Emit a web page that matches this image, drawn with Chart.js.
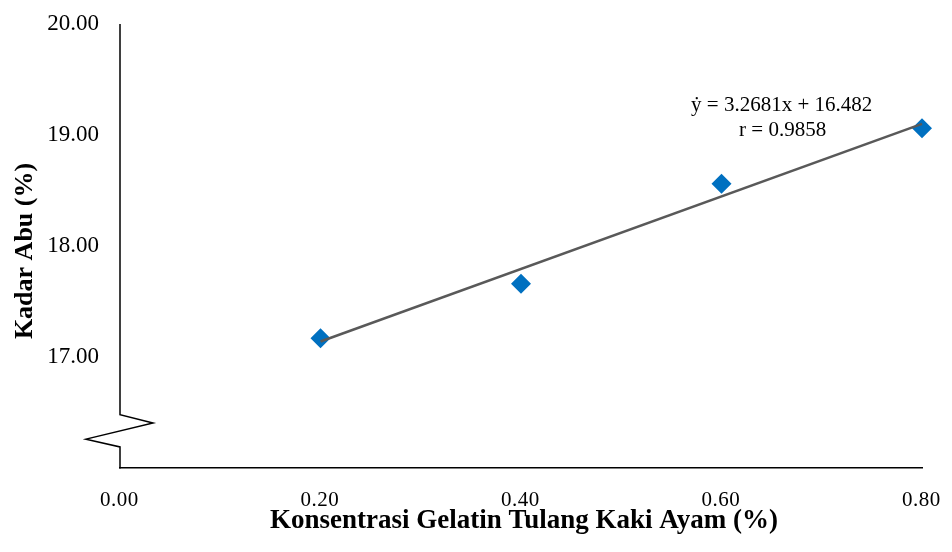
<!DOCTYPE html>
<html><head><meta charset="utf-8">
<script src="https://cdn.jsdelivr.net/npm/chart.js@4"></script>
<style>html,body{margin:0;padding:0;background:#fff}#wrap{width:952px;height:552px}</style>
</head><body><div id="wrap"><canvas id="c" width="952" height="552"></canvas></div>
<script>
const concentrations = [0.2, 0.4, 0.6, 0.8];
const ashContent = [17.17, 17.66, 18.56, 19.06];
const trendX = [0.2, 0.8];
const trendY = [17.14, 19.10];
const xTickValues = [0, 0.2, 0.4, 0.6, 0.8];
const xTickLabels = ['0.00', '0.20', '0.40', '0.60', '0.80'];
const yTickValues = [17, 18, 19, 20];
const xTitle = 'Konsentrasi Gelatin Tulang Kaki Ayam (%)';
const yTitle = 'Kadar Abu (%)';
const eqLines = ['ẏ = 3.2681x + 16.482', 'r = 0.9858'];
const eqAnchor = [0.66, 19.27];

const SERIF = '"Liberation Serif", "Times New Roman", serif';

const decor = {
  id: 'decor',
  afterDraw(chart) {
    const ctx = chart.ctx;
    const xs = chart.scales.x, ys = chart.scales.y;
    const ca = chart.chartArea;
    const left = ca.left;
    ctx.save();
    // y axis with break
    ctx.strokeStyle = '#000';
    ctx.lineWidth = 1.5;
    ctx.beginPath();
    ctx.moveTo(left, ys.getPixelForValue(20));
    ctx.lineTo(left, ys.getPixelForValue(16.48));
    ctx.lineTo(left + 33, ys.getPixelForValue(16.405));
    ctx.lineTo(left - 34, ys.getPixelForValue(16.26));
    ctx.lineTo(left, ys.getPixelForValue(16.19));
    ctx.lineTo(left, ys.getPixelForValue(16) + 0.5);
    ctx.stroke();

    // x tick labels with slight letter spacing
    ctx.fillStyle = '#000';
    ctx.font = '21px ' + SERIF;
    ctx.textBaseline = 'middle';
    ctx.textAlign = 'left';
    const ls = 0.5;
    try { ctx.letterSpacing = ls + 'px'; } catch (e) {}
    xTickValues.forEach((v, i) => {
      const txt = xTickLabels[i];
      const w = ctx.measureText(txt).width - ls;
      ctx.fillText(txt, xs.getPixelForValue(v) - w / 2 - 1, ca.bottom + 32);
    });
    try { ctx.letterSpacing = '0px'; } catch (e) {}

    // axis titles
    ctx.textAlign = 'center';
    ctx.font = 'bold 27px ' + SERIF;
    ctx.fillText(xTitle, (ca.left + ca.right) / 2 + 3, ca.bottom + 53);
    ctx.save();
    ctx.font = 'bold 26px ' + SERIF;
    ctx.translate(25, (ca.top + ca.bottom) / 2 + 5);
    ctx.rotate(-Math.PI / 2);
    ctx.fillText(yTitle, 0, 0);
    ctx.restore();

    // equation
    ctx.font = '21px ' + SERIF;
    const ex = xs.getPixelForValue(eqAnchor[0]);
    const ey = ys.getPixelForValue(eqAnchor[1]);
    ctx.fillText(eqLines[0], ex, ey);
    ctx.fillText(eqLines[1], ex + 1, ey + 25);
    ctx.restore();
  }
};

new Chart(document.getElementById('c'), {
  type: 'scatter',
  data: {
    datasets: [
      {
        type: 'line',
        label: 'Trend',
        data: trendX.map((x, i) => ({ x, y: trendY[i] })),
        borderColor: '#595959',
        borderWidth: 2.5,
        pointRadius: 0,
        fill: false,
        order: 1,
        clip: false
      },
      {
        label: 'Kadar Abu',
        data: concentrations.map((x, i) => ({ x, y: ashContent[i] })),
        backgroundColor: '#0070C0',
        borderColor: '#0070C0',
        borderWidth: 0,
        pointStyle: 'rectRot',
        pointRadius: 10,
        pointHoverRadius: 10,
        order: 2,
        clip: false
      }
    ]
  },
  options: {
    responsive: false,
    animation: false,
    events: [],
    layout: { padding: { top: 24, right: 30, left: 0, bottom: 0 } },
    plugins: { legend: { display: false }, tooltip: { enabled: false } },
    scales: {
      x: {
        type: 'linear',
        min: 0, max: 0.8,
        afterBuildTicks: s => { s.ticks = xTickValues.map(v => ({ value: v })); },
        ticks: { display: false },
        grid: { display: false, drawTicks: false },
        border: { display: true, color: '#000', width: 1.5 },
        afterFit: s => { s.height = 84; s.paddingLeft = 0; s.paddingRight = 0; }
      },
      y: {
        type: 'linear',
        min: 16, max: 20,
        afterBuildTicks: s => { s.ticks = yTickValues.map(v => ({ value: v })); },
        ticks: {
          color: '#000',
          padding: 21,
          font: { family: SERIF, size: 23 },
          callback: v => Number(v).toFixed(2)
        },
        grid: { display: false, drawTicks: false },
        border: { display: false },
        afterFit: s => { s.width = 120; s.paddingTop = 0; s.paddingBottom = 0; }
      }
    }
  },
  plugins: [decor]
});
</script>
</body></html>
